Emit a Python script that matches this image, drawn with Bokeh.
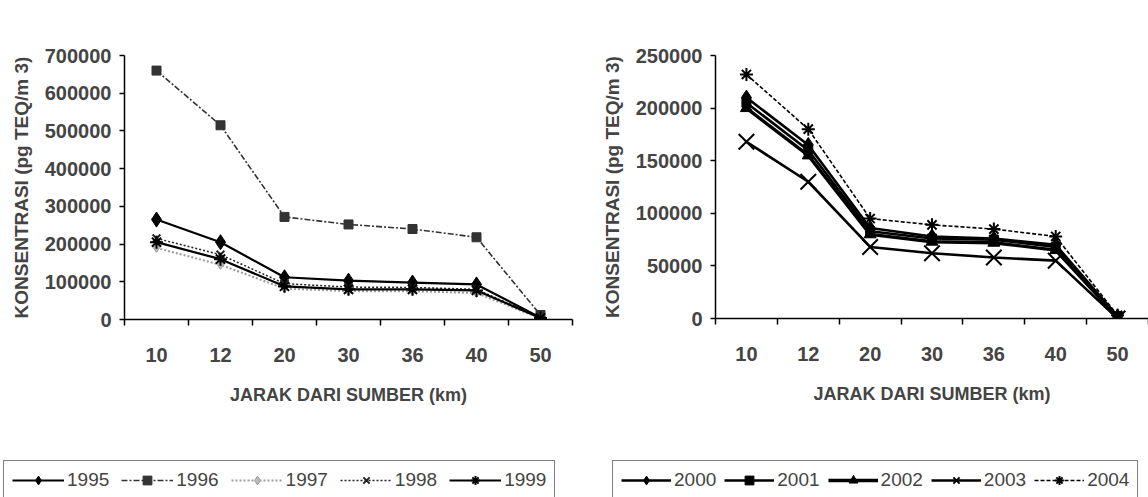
from bokeh.plotting import figure
from bokeh.models import FixedTicker, Legend, LegendItem, Range1d, NumeralTickFormatter
from bokeh.layouts import row, column
from bokeh.embed import file_html
from bokeh.resources import INLINE

# ---------------- data ----------------
distances = ["10", "12", "20", "30", "36", "40", "50"]

years_left = ["1995", "1996", "1997", "1998", "1999"]
conc_1995 = [265000, 205000, 112000, 103000, 98000, 93000, 5000]
conc_1996 = [660000, 515000, 272000, 252000, 240000, 218000, 12000]
conc_1997 = [190000, 145000, 82000, 75000, 75000, 70000, 3000]
conc_1998 = [215000, 172000, 95000, 86000, 85000, 80000, 5000]
conc_1999 = [205000, 160000, 88000, 80000, 80000, 77000, 4000]
yticks_left = [0, 100000, 200000, 300000, 400000, 500000, 600000, 700000]

years_right = ["2000", "2001", "2002", "2003", "2004"]
conc_2000 = [210000, 165000, 86000, 78000, 76000, 70000, 2000]
conc_2001 = [205000, 160000, 83000, 76000, 75000, 68000, 2000]
conc_2002 = [200000, 155000, 80000, 73000, 72000, 65000, 1000]
conc_2003 = [168000, 130000, 68000, 62000, 58000, 55000, 0]
conc_2004 = [232000, 180000, 95000, 89000, 85000, 78000, 3000]
yticks_right = [0, 50000, 100000, 150000, 200000, 250000]

x_title = "JARAK DARI SUMBER (km)"
y_title = "KONSENTRASI (pg TEQ/m 3)"

# styles: color, line width, dash, marker, marker size, fill
styles_left = [
    ("black", 2.2, "solid", "diamond", 15, "black"),
    ("#333333", 1.6, "6 2 2 2", "square", 9, "#333333"),
    ("#9a9a9a", 2.0, "2 2", "diamond", 9, "#bbbbbb"),
    ("#222222", 1.5, "2 2", "x", 11, "#222222"),
    ("black", 2.2, "solid", "asterisk", 13, "black"),
]
styles_right = [
    ("black", 2.6, "solid", "diamond", 15, "black"),
    ("black", 2.6, "solid", "square", 9, "black"),
    ("black", 3.4, "solid", "triangle", 12, "black"),
    ("black", 2.6, "solid", "x", 22, "black"),
    ("black", 1.6, "4 2", "asterisk", 13, "black"),
]

FONT = "Liberation Sans"
TOP_H = 460
LEG_H = 497 - TOP_H
N = len(distances)
XS = [i + 0.5 for i in range(N)]


def draw_series(p, vals, st):
    color, lw, dash, mk, ms, fill = st
    lr = p.line(XS, vals, line_color=color, line_width=lw, line_dash=dash)
    sr = p.scatter(XS, vals, marker=mk, size=ms, line_color=color,
                   fill_color=fill, line_width=2 if mk in ("x", "asterisk") else 1)
    return lr, sr


def make_chart(series, styles, yticks, ymax, border_left, frame_w,
               border_right, border_top, frame_h):
    p = figure(output_backend="svg", toolbar_location=None,
               frame_width=frame_w, frame_height=frame_h,
               min_border_left=border_left, min_border_right=border_right,
               min_border_top=border_top,
               min_border_bottom=TOP_H - border_top - frame_h,
               x_range=Range1d(0, N), y_range=Range1d(0, ymax))
    p.outline_line_color = None
    p.grid.visible = False

    for vals, st in zip(series, styles):
        draw_series(p, vals, st)

    # x axis: labels at category centers, tick marks at boundaries
    xa = p.xaxis[0]
    xa.ticker = FixedTicker(ticks=XS, minor_ticks=list(range(N + 1)))
    xa.major_label_overrides = {x: d for x, d in zip(XS, distances)}
    xa.major_tick_out = 6
    xa.major_tick_in = 0
    xa.major_tick_line_color = None
    xa.minor_tick_out = 6
    xa.minor_tick_in = 0
    xa.minor_tick_line_color = "black"
    xa.minor_tick_line_width = 1.5
    xa.axis_line_width = 1.5
    xa.major_label_text_font = FONT
    xa.major_label_text_font_size = "20px"
    xa.major_label_text_font_style = "bold"
    xa.major_label_standoff = 22
    xa.axis_label = x_title
    xa.axis_label_text_font = FONT
    xa.axis_label_text_font_size = "18px"
    xa.axis_label_text_font_style = "bold"
    xa.axis_label_standoff = 20

    ya = p.yaxis[0]
    ya.ticker = FixedTicker(ticks=yticks, minor_ticks=[])
    ya.formatter = NumeralTickFormatter(format="0")
    ya.major_tick_out = 5
    ya.major_tick_in = 0
    ya.major_tick_line_width = 1.5
    ya.axis_line_width = 1.5
    ya.major_label_text_font = FONT
    ya.major_label_text_font_size = "20px"
    ya.major_label_text_font_style = "bold"
    ya.major_label_standoff = 8
    ya.axis_label = y_title
    ya.axis_label_text_font = FONT
    ya.axis_label_text_font_size = "19px"
    ya.axis_label_text_font_style = "bold"
    ya.axis_label_standoff = 10
    return p


def make_legend(years, series, styles, width, left_pad, glyph_w, spacing):
    # legend-only strip: the series are drawn out of view, only the legend shows
    p = figure(output_backend="svg", toolbar_location=None,
               width=width, height=LEG_H,
               min_border_left=left_pad, min_border_right=0,
               min_border_top=0, min_border_bottom=0,
               x_axis_location=None, y_axis_location=None,
               x_range=Range1d(0, N), y_range=Range1d(-2, -1))
    p.outline_line_color = None
    p.grid.visible = False
    items = []
    for yr, vals, st in zip(years, series, styles):
        lr, sr = draw_series(p, vals, st)
        items.append(LegendItem(label=yr, renderers=[lr, sr]))
    legend = Legend(items=items, orientation="horizontal", location="top_left")
    legend.label_text_font = FONT
    legend.label_text_font_size = "19px"
    legend.label_standoff = 3
    legend.glyph_width = glyph_w
    legend.glyph_height = 22
    legend.label_width = 40
    legend.spacing = spacing
    legend.padding = 8
    legend.margin = 0
    legend.border_line_color = "black"
    legend.border_line_width = 1.5
    legend.background_fill_color = "white"
    legend.background_fill_alpha = 1
    p.add_layout(legend, "center")
    return p


series_left = [conc_1995, conc_1996, conc_1997, conc_1998, conc_1999]
series_right = [conc_2000, conc_2001, conc_2002, conc_2003, conc_2004]

p1 = make_chart(series_left, styles_left, yticks_left, 700000, 124, 448, 2, 55, 264)
p2 = make_chart(series_right, styles_right, yticks_right, 250000, 141, 433, 0, 50, 263)
l1 = make_legend(years_left, series_left, styles_left, 574, 3, 52, 12)
l2 = make_legend(years_right, series_right, styles_right, 574, 38, 50, 8)

layout = column(row(p1, p2, spacing=0), row(l1, l2, spacing=0), spacing=0)
open("out.html", "w").write(file_html(layout, INLINE))
